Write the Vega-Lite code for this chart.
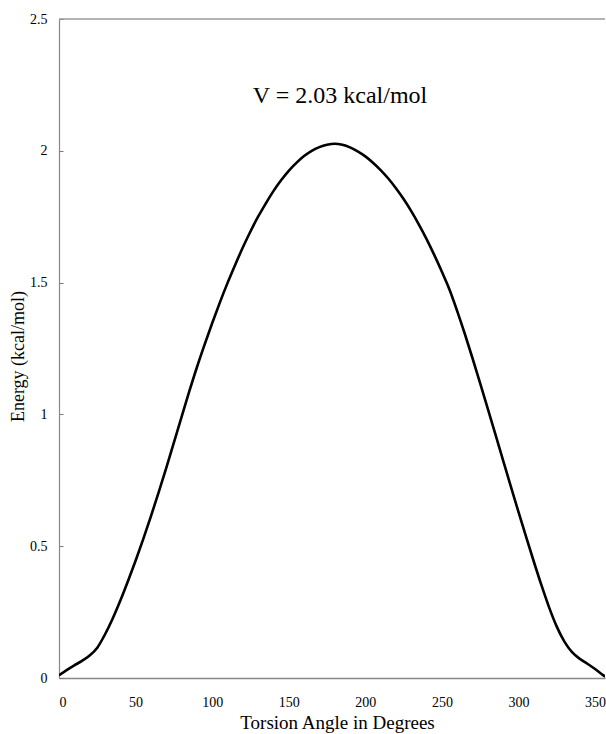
{
  "$schema": "https://vega.github.io/schema/vega-lite/v6.json",
  "width": 546,
  "height": 659,
  "autosize": "none",
  "padding": {"left": 59, "top": 19, "right": 1, "bottom": 56},
  "background": "white",
  "config": {
    "view": {"stroke": null},
    "font": "Liberation Serif",
    "axis": {"grid": false, "labelFont": "Liberation Serif", "titleFont": "Liberation Serif", "labelColor": "black", "titleColor": "black", "titleFontWeight": "normal", "labelFontSize": 14}
  },
  "data": {
    "values": [
      {"angle": 0, "energy": 0.01}, {"angle": 5, "energy": 0.03}, {"angle": 10, "energy": 0.048}, {"angle": 15, "energy": 0.065},
      {"angle": 20, "energy": 0.085}, {"angle": 25, "energy": 0.115}, {"angle": 30, "energy": 0.165}, {"angle": 35, "energy": 0.225},
      {"angle": 40, "energy": 0.293}, {"angle": 45, "energy": 0.367}, {"angle": 50, "energy": 0.445}, {"angle": 55, "energy": 0.527},
      {"angle": 60, "energy": 0.613}, {"angle": 65, "energy": 0.703}, {"angle": 70, "energy": 0.796}, {"angle": 75, "energy": 0.893},
      {"angle": 80, "energy": 0.99}, {"angle": 85, "energy": 1.086}, {"angle": 90, "energy": 1.178}, {"angle": 95, "energy": 1.264},
      {"angle": 100, "energy": 1.346}, {"angle": 105, "energy": 1.424}, {"angle": 110, "energy": 1.498}, {"angle": 115, "energy": 1.567},
      {"angle": 120, "energy": 1.633}, {"angle": 125, "energy": 1.694}, {"angle": 130, "energy": 1.75}, {"angle": 135, "energy": 1.8},
      {"angle": 140, "energy": 1.847}, {"angle": 145, "energy": 1.888}, {"angle": 150, "energy": 1.924}, {"angle": 155, "energy": 1.954},
      {"angle": 160, "energy": 1.98}, {"angle": 165, "energy": 2.0}, {"angle": 170, "energy": 2.014}, {"angle": 175, "energy": 2.023},
      {"angle": 180, "energy": 2.027}, {"angle": 185, "energy": 2.023}, {"angle": 190, "energy": 2.013}, {"angle": 195, "energy": 1.998},
      {"angle": 200, "energy": 1.979}, {"angle": 205, "energy": 1.955}, {"angle": 210, "energy": 1.927}, {"angle": 215, "energy": 1.895},
      {"angle": 220, "energy": 1.858}, {"angle": 225, "energy": 1.817}, {"angle": 230, "energy": 1.771}, {"angle": 235, "energy": 1.72},
      {"angle": 240, "energy": 1.665}, {"angle": 245, "energy": 1.605}, {"angle": 250, "energy": 1.541}, {"angle": 255, "energy": 1.473},
      {"angle": 260, "energy": 1.392}, {"angle": 265, "energy": 1.305}, {"angle": 270, "energy": 1.213}, {"angle": 275, "energy": 1.118},
      {"angle": 280, "energy": 1.021}, {"angle": 285, "energy": 0.923}, {"angle": 290, "energy": 0.825}, {"angle": 295, "energy": 0.727},
      {"angle": 300, "energy": 0.63}, {"angle": 305, "energy": 0.535}, {"angle": 310, "energy": 0.442}, {"angle": 315, "energy": 0.352},
      {"angle": 320, "energy": 0.268}, {"angle": 325, "energy": 0.195}, {"angle": 330, "energy": 0.138}, {"angle": 335, "energy": 0.098},
      {"angle": 340, "energy": 0.073}, {"angle": 345, "energy": 0.054}, {"angle": 350, "energy": 0.034}, {"angle": 355, "energy": 0.012},
      {"angle": 360, "energy": -0.005}
    ]
  },
  "layer": [
    {
      "data": {"values": [{"level": 2.5}]},
      "mark": {"type": "rule", "color": "#9a9a9a", "strokeWidth": 1.5},
      "encoding": {"y": {"field": "level", "type": "quantitative"}}
    },
    {
      "mark": {"type": "line", "color": "black", "strokeWidth": 2.6, "interpolate": "monotone", "clip": true},
      "encoding": {
        "x": {
          "field": "angle", "type": "quantitative",
          "scale": {"domain": [0, 356.5], "nice": false, "zero": false},
          "axis": {
            "values": [0, 50, 100, 150, 200, 250, 300, 350],
            "ticks": false,
            "labelPadding": 17,
            "domainColor": "#888888",
            "domainWidth": 1.5,
            "title": "Torsion Angle in Degrees",
            "titleFontSize": 19,
            "titleX": 278,
            "titleY": 50,
            "titleAlign": "center",
            "titleBaseline": "alphabetic"
          }
        },
        "y": {
          "field": "energy", "type": "quantitative",
          "scale": {"domain": [0, 2.5], "nice": false},
          "axis": {
            "values": [0, 0.5, 1, 1.5, 2, 2.5],
            "labelExpr": "datum.value",
            "tickSize": -4,
            "tickColor": "#777777",
            "labelPadding": 16,
            "domainColor": "#888888",
            "domainWidth": 1.2,
            "title": "Energy (kcal/mol)",
            "titleFontSize": 18,
            "titleAngle": 270,
            "titleX": -41,
            "titleY": 337,
            "titleAlign": "center",
            "titleBaseline": "middle"
          }
        }
      }
    },
    {
      "data": {"values": [{"label": "V = 2.03 kcal/mol"}]},
      "mark": {"type": "text", "font": "Liberation Serif", "fontSize": 24, "color": "black", "align": "center", "baseline": "alphabetic"},
      "encoding": {
        "text": {"field": "label", "type": "nominal"},
        "x": {"datum": 183.5, "type": "quantitative"},
        "y": {"datum": 2.18, "type": "quantitative"}
      }
    }
  ]
}
